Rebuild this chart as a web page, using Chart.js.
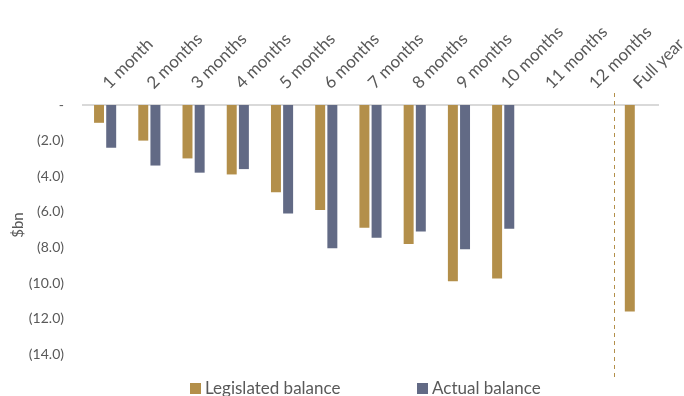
<!DOCTYPE html>
<html>
<head>
<meta charset="utf-8">
<script src="https://cdn.jsdelivr.net/npm/chart.js@4/dist/chart.umd.min.js"></script>
<style>
  html, body { margin: 0; padding: 0; background: #fff; }
  #wrap { position: relative; width: 684px; height: 396px; overflow: hidden; }
  #legend { position: absolute; top: 377px; left: 0; width: 684px; font: 17px Lato, sans-serif; color: #595959; }
  #legend span.item { position: absolute; white-space: nowrap; }
  #legend i { display: inline-block; width: 11px; height: 11px; margin-right: 4px; vertical-align: 0px; }
</style>
</head>
<body>
<div id="wrap">
  <canvas id="chart" width="684" height="396"></canvas>
  <div id="legend"></div>
</div>
<script>
  const categories = ['1 month', '2 months', '3 months', '4 months', '5 months', '6 months',
    '7 months', '8 months', '9 months', '10 months', '11 months', '12 months', 'Full year'];
  const legislated = [-1.0, -2.0, -3.0, -3.9, -4.9, -5.9, -6.9, -7.8, -9.9, -9.75, null, null, -11.6];
  const actual = [-2.4, -3.4, -3.8, -3.6, -6.1, -8.05, -7.45, -7.1, -8.1, -6.95, null, null, null];
  const seriesNames = ['Legislated balance', 'Actual balance'];
  const seriesColors = ['#B38F4A', '#626A85'];
  const yMax = 0, yMin = -15.5, yStep = 2;

  const fontFamily = 'Lato, "Open Sans", sans-serif';
  const textColor = '#595959';

  function fmt(v) {
    if (v === 0) return '-';
    const s = Math.abs(v).toFixed(1);
    return v < 0 ? '(' + s + ')' : s;
  }

  // dashed divider between "12 months" and "Full year", plus the y unit label
  const extras = {
    id: 'extras',
    afterDatasetsDraw(chart) {
      const x = chart.scales.x;
      const px = (x.getPixelForValue(11) + x.getPixelForValue(12)) / 2;
      const ctx = chart.ctx;
      ctx.save();
      ctx.strokeStyle = seriesColors[0];
      ctx.lineWidth = 1;
      ctx.setLineDash([4, 4]);
      ctx.beginPath();
      ctx.moveTo(Math.round(px) + 0.5, chart.chartArea.top - 12);
      ctx.lineTo(Math.round(px) + 0.5, chart.chartArea.bottom);
      ctx.stroke();
      ctx.setLineDash([]);
      ctx.translate(18, 225);
      ctx.rotate(-Math.PI / 2);
      ctx.fillStyle = textColor;
      ctx.font = '15px ' + fontFamily;
      ctx.textAlign = 'center';
      ctx.textBaseline = 'middle';
      ctx.fillText('$bn', 0, 0);
      ctx.restore();
    }
  };

  const chart = new Chart(document.getElementById('chart'), {
    type: 'bar',
    data: {
      labels: categories,
      datasets: [
        { label: seriesNames[0], data: legislated, backgroundColor: seriesColors[0] },
        { label: seriesNames[1], data: actual, backgroundColor: seriesColors[1] }
      ]
    },
    options: {
      responsive: false,
      animation: false,
      layout: { padding: { top: 0, right: 26, bottom: 15, left: 0 } },
      categoryPercentage: 0.55,
      barPercentage: 0.82,
      plugins: {
        legend: { display: false },
        tooltip: { enabled: false }
      },
      scales: {
        x: {
          position: 'top',
          grid: { display: false, drawTicks: false },
          border: { display: true, color: '#D9D9D9', width: 2 },
          ticks: {
            color: textColor,
            font: { family: fontFamily, size: 17 },
            minRotation: 45,
            maxRotation: 45,
            padding: 12,
            labelOffset: 15,
            autoSkip: false
          },
          afterFit(scale) {
            scale.height = 105;
            scale.paddingRight = 0;
            scale.paddingLeft = 0;
          }
        },
        y: {
          min: yMin,
          max: yMax,
          grid: { display: false, drawTicks: false },
          border: { display: false },
          ticks: {
            stepSize: yStep,
            color: textColor,
            font: { family: fontFamily, size: 14 },
            padding: 19,
            callback: (v) => (v % yStep === 0 ? fmt(v) : '')
          },
          afterFit(scale) {
            scale.width = 83;
            scale.paddingTop = 0;
            scale.paddingBottom = 0;
          }
        }
      }
    },
    plugins: [extras]
  });

  // legend
  const legend = document.getElementById('legend');
  const legendX = [190, 417];
  seriesNames.forEach((name, i) => {
    const el = document.createElement('span');
    el.className = 'item';
    el.style.left = legendX[i] + 'px';
    el.innerHTML = '<i style="background:' + seriesColors[i] + '"></i>' + name;
    legend.appendChild(el);
  });
</script>
</body>
</html>
